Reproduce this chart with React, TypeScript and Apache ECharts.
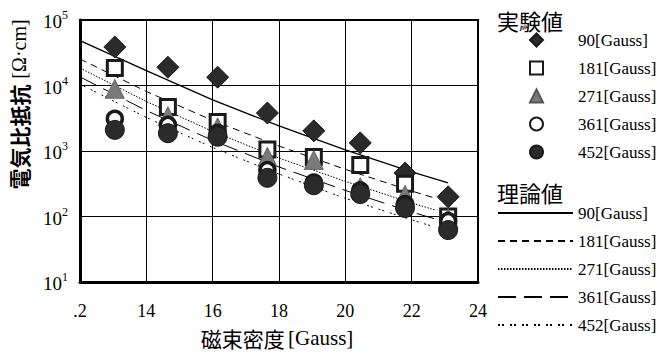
import React, { useEffect, useRef } from "react";
import * as echarts from "echarts";

// ---- data ----
const expX = [13.05, 14.65, 16.15, 17.65, 19.05, 20.45, 21.8, 23.1];
const exp90 = [38700, 19000, 13400, 3800, 2030, 1330, 460, 200];
const exp181 = [18500, 4700, 2770, 1050, 810, 610, 315, 100];
const exp271 = [8900, 3400, 2300, 815, 730, 280, 215, 95];
const exp361 = [3100, 2500, 1900, 510, 330, 250, 155, 85];
const exp452 = [2100, 1870, 1650, 390, 300, 220, 135, 62];

const theoryX90 = [12, 14, 16, 18, 20, 22, 23.1];
const theoryX = [12, 14, 16, 18, 20, 22, 22.7];
const theory90 = [48300, 16900, 6030, 2410, 1040, 481, 325];
const theory181 = [25400, 8100, 2930, 1190, 524, 245, 191];
const theory271 = [18500, 5700, 1990, 780, 344, 161, 126];
const theory361 = [13500, 4150, 1450, 570, 250, 117, 92];
const theory452 = [10500, 3250, 1130, 445, 189, 89, 69];

const fieldLabels = ["90[Gauss]", "181[Gauss]", "271[Gauss]", "361[Gauss]", "452[Gauss]"];
const expNames = ["exp90", "exp181", "exp271", "exp361", "exp452"];
const thNames = ["th90", "th181", "th271", "th361", "th452"];
const xTickLabels: Record<number, string> = { 12: ".2", 14: "14", 16: "16", 18: "18", 20: "20", 22: "22", 24: "24" };

const SERIF = "'Liberation Serif', 'Times New Roman', serif";
const CJK = "'Noto Sans CJK JP', sans-serif";

const pair = (xs: number[], ys: number[]) => xs.map((x, i) => [x, ys[i]]);

export default function App() {
  const ref = useRef<HTMLDivElement>(null);
  useEffect(() => {
    if (!ref.current) return;
    const chart = echarts.init(ref.current, undefined, { renderer: "svg" });
    const lineSeries = (name: string, xs: number[], ys: number[], type: any, width = 1) => ({
      name,
      type: "line",
      data: pair(xs, ys),
      symbol: "none",
      smooth: false,
      z: 1,
      lineStyle: { color: "#000", width, type },
      itemStyle: { color: "rgba(0,0,0,0)", borderColor: "rgba(0,0,0,0)" },
    });
    const labelOf = (n: string) => {
      let i = expNames.indexOf(n);
      if (i < 0) i = thNames.indexOf(n);
      return fieldLabels[i];
    };
    chart.setOption({
      animation: false,
      backgroundColor: "#fff",
      grid: { left: 80, right: 182, top: 20, bottom: 74, show: true, borderColor: "#000", borderWidth: 2, backgroundColor: "transparent" },
      xAxis: {
        type: "value",
        min: 12,
        max: 24,
        interval: 2,
        axisLine: { show: true, lineStyle: { color: "#000", width: 3 } },
        axisTick: { show: false },
        splitLine: { show: true, lineStyle: { color: "#000", width: 1 } },
        axisLabel: {
          margin: 20,
          color: "#000",
          fontFamily: SERIF,
          fontSize: 18,
          formatter: (v: number) => xTickLabels[v] ?? String(v),
        },
      },
      yAxis: {
        type: "log",
        logBase: 10,
        min: 10,
        max: 100000,
        axisLine: { show: true, lineStyle: { color: "#000", width: 3 } },
        axisTick: { show: false },
        minorTick: { show: false },
        splitLine: { show: true, lineStyle: { color: "#000", width: 1 } },
        axisLabel: {
          margin: 12,
          color: "#000",
          formatter: (v: number) => `{b|10}{s|${Math.round(Math.log10(v))}}`,
          rich: {
            b: { fontFamily: SERIF, fontSize: 19, color: "#000", lineHeight: 22, verticalAlign: "bottom" },
            s: { fontFamily: SERIF, fontSize: 12, color: "#000", lineHeight: 12, verticalAlign: "top" },
          },
        },
      },
      legend: [
        {
          data: expNames,
          orient: "vertical",
          left: 529,
          top: 31,
          padding: 0,
          itemWidth: 13,
          itemHeight: 13,
          itemGap: 10,
          selectedMode: false,
          formatter: labelOf,
          textStyle: { fontFamily: SERIF, fontSize: 17, color: "#000", lineHeight: 18, padding: [0, 0, 0, 30] },
        },
        {
          data: thNames,
          orient: "vertical",
          left: 497,
          top: 204,
          padding: 0,
          itemWidth: 75,
          itemHeight: 14,
          itemGap: 10,
          selectedMode: false,
          formatter: labelOf,
          itemStyle: { opacity: 0 },
          textStyle: { fontFamily: SERIF, fontSize: 17, color: "#000", lineHeight: 18 },
        },
      ],
      graphic: [
        { type: "text", left: 497, top: 9, style: { text: "実験値", font: `22px ${CJK}`, fill: "#000" } },
        { type: "text", left: 497, top: 181, style: { text: "理論値", font: `22px ${CJK}`, fill: "#000" } },
        {
          type: "text",
          x: 19,
          y: 137,
          rotation: Math.PI / 2,
          style: {
            text: "電気比抵抗",
            font: `bold 21px ${CJK}`,
            fill: "#000",
            align: "center",
            verticalAlign: "middle",
          },
        },
        {
          type: "text",
          x: 19,
          y: 49,
          rotation: Math.PI / 2,
          style: {
            text: "[Ω·cm]",
            font: `20px ${SERIF}`,
            fill: "#000",
            align: "center",
            verticalAlign: "middle",
          },
        },
        {
          type: "text",
          x: 277,
          y: 338,
          style: {
            text: "{a|磁束密度} {b|[Gauss]}",
            align: "center",
            verticalAlign: "middle",
            rich: {
              a: { fontFamily: CJK, fontSize: 21, fill: "#000" },
              b: { fontFamily: SERIF, fontSize: 21, fill: "#000" },
            },
          },
        },
      ],
      series: [
        lineSeries("th90", theoryX90, theory90, "solid", 1.3),
        lineSeries("th181", theoryX, theory181, [7, 5]),
        lineSeries("th271", theoryX, theory271, [1.5, 1.5]),
        lineSeries("th361", theoryX, theory361, [18, 8]),
        lineSeries("th452", theoryX, theory452, [2, 2, 2, 6]),
        {
          name: "exp90",
          type: "scatter",
          data: pair(expX, exp90),
          symbol: "diamond",
          symbolSize: 22,
          z: 2,
          itemStyle: { color: "#2b2b2b", borderColor: "#1a1a1a", borderWidth: 1, opacity: 1 },
        },
        {
          name: "exp181",
          type: "scatter",
          data: pair(expX, exp181),
          symbol: "rect",
          symbolSize: 15,
          z: 2,
          itemStyle: { color: "#fff", borderColor: "#1a1a1a", borderWidth: 3, opacity: 1 },
        },
        {
          name: "exp271",
          type: "scatter",
          data: pair(expX, exp271),
          symbol: "triangle",
          symbolSize: 19,
          z: 2,
          itemStyle: { color: "#7a7a7a", borderColor: "#555", borderWidth: 0.8, opacity: 1 },
        },
        {
          name: "exp361",
          type: "scatter",
          data: pair(expX, exp361),
          symbol: "circle",
          symbolSize: 15,
          z: 2,
          itemStyle: { color: "#fff", borderColor: "#1a1a1a", borderWidth: 3.5, opacity: 1 },
        },
        {
          name: "exp452",
          type: "scatter",
          data: pair(expX, exp452),
          symbol: "circle",
          symbolSize: 19,
          z: 2,
          itemStyle: { color: "#2b2b2b", borderColor: "#1a1a1a", borderWidth: 1, opacity: 1 },
        },
      ],
    });
    return () => chart.dispose();
  }, []);
  return <div ref={ref} style={{ position: "absolute", left: 0, top: 0, width: 660, height: 356, background: "#fff" }} />;
}
